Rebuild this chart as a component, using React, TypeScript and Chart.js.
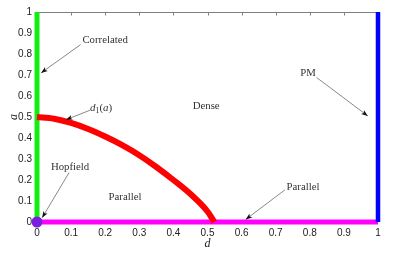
import React, { useEffect, useRef } from "react";
import { Chart, registerables } from "chart.js";

Chart.register(...registerables);

const tickLabels = ["0", "0.1", "0.2", "0.3", "0.4", "0.5", "0.6", "0.7", "0.8", "0.9", "1"];

const boundaryD = [0, 0.05, 0.1, 0.15, 0.2, 0.25, 0.3, 0.35, 0.4, 0.45, 0.5, 0.52];
const boundaryA = [0.5, 0.492, 0.472, 0.443, 0.407, 0.366, 0.318, 0.262, 0.2, 0.133, 0.05, 0];

const correlatedD = [0, 0];
const correlatedA = [0, 1];
const pmD = [1, 1];
const pmA = [0, 1];
const parallelD = [0, 1];
const parallelA = [0, 0];
const hopfieldD = [0];
const hopfieldA = [0];

type Note = { text: string; x: number; y: number; from?: [number, number]; to?: [number, number] };
const notes: Note[] = [
  { text: "Correlated", x: 0.2, y: 0.865, from: [0.128, 0.845], to: [0.012, 0.71] },
  { text: "d1(a)", x: 0.188, y: 0.543, from: [0.155, 0.532], to: [0.085, 0.487] },
  { text: "Dense", x: 0.496, y: 0.552 },
  { text: "PM", x: 0.795, y: 0.71, from: [0.82, 0.688], to: [0.97, 0.505] },
  { text: "Hopfield", x: 0.097, y: 0.262, from: [0.094, 0.235], to: [0.015, 0.02] },
  { text: "Parallel", x: 0.258, y: 0.119 },
  { text: "Parallel", x: 0.78, y: 0.167, from: [0.727, 0.153], to: [0.612, 0.012] },
];

const SERIF = '"Liberation Serif", "DejaVu Serif", serif';

const zip = (xs: number[], ys: number[]) => xs.map((x, i) => ({ x, y: ys[i] }));

const decorPlugin = {
  id: "decor",
  beforeDatasetsDraw(chart: any) {
    const { ctx, chartArea, scales } = chart;
    ctx.save();
    ctx.strokeStyle = "#808080";
    ctx.lineWidth = 1;
    ctx.beginPath();
    ctx.moveTo(chartArea.left, chartArea.top + 0.5);
    ctx.lineTo(chartArea.right, chartArea.top + 0.5);
    tickLabels.forEach((_, i) => {
      const px = Math.round(scales.x.getPixelForValue(i / 10)) + 0.5;
      ctx.moveTo(px, chartArea.top);
      ctx.lineTo(px, chartArea.top + 3.5);
    });
    ctx.stroke();
    ctx.restore();
  },
  afterDatasetsDraw(chart: any) {
    const { ctx, scales, chartArea } = chart;
    const sx = (v: number) => scales.x.getPixelForValue(v);
    const sy = (v: number) => scales.y.getPixelForValue(v);
    ctx.save();
    ctx.textBaseline = "middle";
    notes.forEach((n) => {
      const cx = sx(n.x);
      const cy = sy(n.y);
      ctx.fillStyle = "#333";
      if (n.text === "d1(a)") {
        const parts: [string, string, number][] = [
          ["d", "italic 11px " + SERIF, 0],
          ["1", "8px " + SERIF, 2.5],
          ["(", "11px " + SERIF, 0],
          ["a", "italic 11px " + SERIF, 0],
          [")", "11px " + SERIF, 0],
        ];
        let total = 0;
        parts.forEach(([t, f]) => {
          ctx.font = f;
          total += ctx.measureText(t).width;
        });
        let x = cx - total / 2;
        ctx.textAlign = "left";
        parts.forEach(([t, f, dy]) => {
          ctx.font = f;
          ctx.fillText(t, x, cy + dy);
          x += ctx.measureText(t).width;
        });
      } else {
        ctx.font = "10.8px " + SERIF;
        ctx.textAlign = "center";
        ctx.fillText(n.text, cx, cy);
      }
      if (n.from && n.to) {
        const x1 = sx(n.from[0]);
        const y1 = sy(n.from[1]);
        const x2 = sx(n.to[0]);
        const y2 = sy(n.to[1]);
        const ang = Math.atan2(y2 - y1, x2 - x1);
        ctx.strokeStyle = "#555";
        ctx.lineWidth = 0.7;
        ctx.beginPath();
        ctx.moveTo(x1, y1);
        ctx.lineTo(x2, y2);
        ctx.stroke();
        const L = 7;
        const W = 0.35;
        ctx.fillStyle = "#111";
        ctx.beginPath();
        ctx.moveTo(x2, y2);
        ctx.lineTo(x2 - L * Math.cos(ang - W), y2 - L * Math.sin(ang - W));
        ctx.lineTo(x2 - L * 0.7 * Math.cos(ang), y2 - L * 0.7 * Math.sin(ang));
        ctx.lineTo(x2 - L * Math.cos(ang + W), y2 - L * Math.sin(ang + W));
        ctx.closePath();
        ctx.fill();
      }
    });
    // axis titles
    ctx.fillStyle = "#222";
    ctx.font = "italic 12px " + SERIF;
    ctx.textAlign = "center";
    ctx.fillText("d", (chartArea.left + chartArea.right) / 2, 244);
    ctx.save();
    ctx.translate(14, (chartArea.top + chartArea.bottom) / 2);
    ctx.rotate(-Math.PI / 2);
    ctx.fillText("a", 0, 0);
    ctx.restore();
    ctx.restore();
  },
};

export default function App() {
  const ref = useRef<HTMLCanvasElement | null>(null);
  useEffect(() => {
    if (!ref.current) return;
    const tickFont = { family: '"Liberation Sans", Arial, sans-serif', size: 10 };
    const chart = new Chart(ref.current, {
      type: "scatter",
      data: {
        datasets: [
          {
            label: "Hopfield",
            data: zip(hopfieldD, hopfieldA),
            pointRadius: 5.5,
            pointBackgroundColor: "#7a1fe0",
            pointBorderWidth: 0,
            showLine: false,
            order: 0,
            clip: false,
          },
          {
            label: "d1",
            data: zip(boundaryD, boundaryA),
            showLine: true,
            borderColor: "#ff0000",
            borderWidth: 6,
            pointRadius: 0,
            cubicInterpolationMode: "monotone",
            order: 1,
            clip: false,
          },
          {
            label: "PM",
            data: zip(pmD, pmA),
            showLine: true,
            borderColor: "#0000ff",
            borderWidth: 4.5,
            pointRadius: 0,
            order: 2,
            clip: false,
          },
          {
            label: "Parallel",
            data: zip(parallelD, parallelA),
            showLine: true,
            borderColor: "#ff00ff",
            borderWidth: 5,
            pointRadius: 0,
            order: 3,
            clip: false,
          },
          {
            label: "Correlated",
            data: zip(correlatedD, correlatedA),
            showLine: true,
            borderColor: "#11ee11",
            borderWidth: 5,
            pointRadius: 0,
            order: 4,
            clip: false,
          },
        ],
      },
      options: {
        animation: false,
        responsive: false,
        layout: { padding: { left: 0, right: 21, top: 12, bottom: 0 } },
        plugins: { legend: { display: false }, tooltip: { enabled: false } },
        scales: {
          x: {
            type: "linear",
            min: 0,
            max: 1,
            border: { display: false },
            grid: { display: false, drawTicks: false },
            ticks: {
              stepSize: 0.1,
              padding: 5,
              color: "#222",
              font: tickFont,
              maxRotation: 0,
              autoSkip: false,
              callback: (v: any) => tickLabels[Math.round(Number(v) * 10)],
            },
            afterFit: (s: any) => {
              s.height = 35;
            },
          },
          y: {
            type: "linear",
            min: 0,
            max: 1,
            border: { display: false },
            grid: { display: false, drawTicks: false },
            ticks: {
              stepSize: 0.1,
              padding: 5,
              color: "#222",
              font: tickFont,
              autoSkip: false,
              callback: (v: any) => tickLabels[Math.round(Number(v) * 10)],
            },
            afterFit: (s: any) => {
              s.width = 37;
            },
          },
        },
      },
      plugins: [decorPlugin],
    } as any);
    return () => chart.destroy();
  }, []);
  return (
    <div style={{ position: "fixed", left: 0, top: 0, width: 399, height: 257, background: "#fff" }}>
      <canvas ref={ref} width={399} height={257} style={{ width: 399, height: 257 }} />
    </div>
  );
}
